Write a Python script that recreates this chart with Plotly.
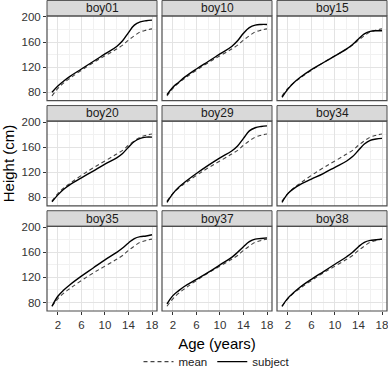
import plotly.graph_objects as go
from plotly.subplots import make_subplots

ages = [1, 2, 3, 4, 6, 8, 10, 12, 13, 14, 15, 16, 17, 18]
mean_height = [74, 86, 95, 102, 115, 127, 138, 149, 155, 163, 170, 176, 179, 181]

subjects = ["boy01", "boy10", "boy15", "boy20", "boy29", "boy34", "boy35", "boy37", "boy38"]
boy01 = [80, 90, 98, 105, 117, 129, 141, 153, 162, 175, 187, 192, 194, 195]
boy10 = [76, 88, 96, 104, 117, 129, 141, 153, 162, 174, 183, 187, 188, 188]
boy15 = [72, 85, 95, 103, 116, 127, 138, 149, 156, 165, 173, 177, 178, 178]
boy20 = [73, 84, 93, 100, 111, 122, 133, 143, 150, 160, 169, 174, 176, 176]
boy29 = [72, 86, 96, 104, 118, 131, 143, 154, 162, 174, 186, 191, 193, 194]
boy34 = [72, 86, 94, 100, 109, 118, 128, 138, 145, 155, 165, 171, 173, 174]
boy35 = [74, 90, 100, 108, 122, 135, 148, 160, 167, 175, 182, 185, 186, 188]
boy37 = [78, 91, 99, 106, 117, 128, 140, 152, 160, 169, 177, 181, 182, 183]
boy38 = [74, 87, 96, 104, 117, 129, 141, 153, 160, 169, 176, 179, 180, 181]
subject_heights = [boy01, boy10, boy15, boy20, boy29, boy34, boy35, boy37, boy38]

x_ticks = [2, 6, 10, 14, 18]
y_ticks = [80, 120, 160, 200]

W, H = 388, 377
ml, mr, mt, mb = 47, 1, 16, 58
pw, ph = W - ml - mr, H - mt - mb
panel_h = 87
strip_h = 16

fig = make_subplots(rows=3, cols=3, shared_xaxes=False, shared_yaxes=False,
                    horizontal_spacing=5 / pw, vertical_spacing=21 / ph)

font_family = "Liberation Sans, Arial, sans-serif"

for i, (name, vals) in enumerate(zip(subjects, subject_heights)):
    r, c = i // 3 + 1, i % 3 + 1
    fig.add_trace(go.Scatter(x=ages, y=mean_height, mode="lines", name="mean",
                             line=dict(color="#444444", width=1.1, dash="4px,3px", shape="spline", smoothing=1.1),
                             showlegend=(i == 0), legendrank=1), row=r, col=c)
    fig.add_trace(go.Scatter(x=ages, y=vals, mode="lines", name="subject",
                             line=dict(color="black", width=1.4, shape="spline", smoothing=1.1),
                             showlegend=(i == 0), legendrank=2), row=r, col=c)
    idx = "" if i == 0 else str(i + 1)
    xref = "x" + idx + " domain"
    yref = "y" + idx + " domain"
    fig.add_shape(type="rect", xref=xref, yref=yref, x0=0, x1=1, y0=1, y1=1 + strip_h / panel_h,
                  fillcolor="#d9d9d9", line=dict(color="#4d4d4d", width=1), layer="above")
    fig.add_shape(type="rect", xref=xref, yref=yref, x0=0, x1=1, y0=0, y1=1,
                  fillcolor="rgba(0,0,0,0)", line=dict(color="#4d4d4d", width=1.2), layer="above")
    fig.add_annotation(text=name, xref=xref, yref=yref, x=0.5, y=1 + strip_h / panel_h / 2,
                       showarrow=False, font=dict(size=12, color="#1a1a1a", family=font_family),
                       xanchor="center", yanchor="middle")
    fig.update_xaxes(row=r, col=c, range=[0.15, 18.85], tickvals=x_ticks,
                     showticklabels=(r == 3), ticks="outside" if r == 3 else "", ticklen=3,
                     tickcolor="#333333", showgrid=True, gridcolor="#e3e3e3", gridwidth=1,
                     minor=dict(tickvals=[4, 8, 12, 16], showgrid=True, gridcolor="#f1f1f1", gridwidth=0.7),
                     zeroline=False, showline=False, ticklabeloverflow="allow",
                     tickfont=dict(size=11.5, color="#333333", family=font_family))
    fig.update_yaxes(row=r, col=c, range=[66.5, 201.5], tickvals=y_ticks,
                     showticklabels=(c == 1), ticks="outside" if c == 1 else "", ticklen=3,
                     tickcolor="#333333", showgrid=True, gridcolor="#e3e3e3", gridwidth=1,
                     minor=dict(tickvals=[100, 140, 180], showgrid=True, gridcolor="#f1f1f1", gridwidth=0.7),
                     zeroline=False, showline=False, ticklabeloverflow="allow",
                     tickfont=dict(size=11.5, color="#333333", family=font_family))

fig.update_xaxes(row=3, col=2, title=dict(text="Age (years)", standoff=8,
                 font=dict(size=15, color="#000000", family=font_family)))
fig.update_yaxes(row=2, col=1, title=dict(text="Height (cm)", standoff=7,
                 font=dict(size=15, color="#000000", family=font_family)))

fig.update_layout(
    width=W, height=H,
    margin=dict(l=ml, r=mr, t=mt, b=mb),
    paper_bgcolor="white", plot_bgcolor="white",
    font=dict(family=font_family),
    legend=dict(orientation="h", x=0.5, xanchor="center", y=-52 / ph, yanchor="middle",
                font=dict(size=11.5, color="#1a1a1a", family=font_family),
                itemwidth=30, tracegroupgap=0, bgcolor="rgba(0,0,0,0)"),
)

fig.write_html("out.html", config={"displayModeBar": False},
               post_script="document.body.style.margin='0';document.body.style.overflow='hidden';")
